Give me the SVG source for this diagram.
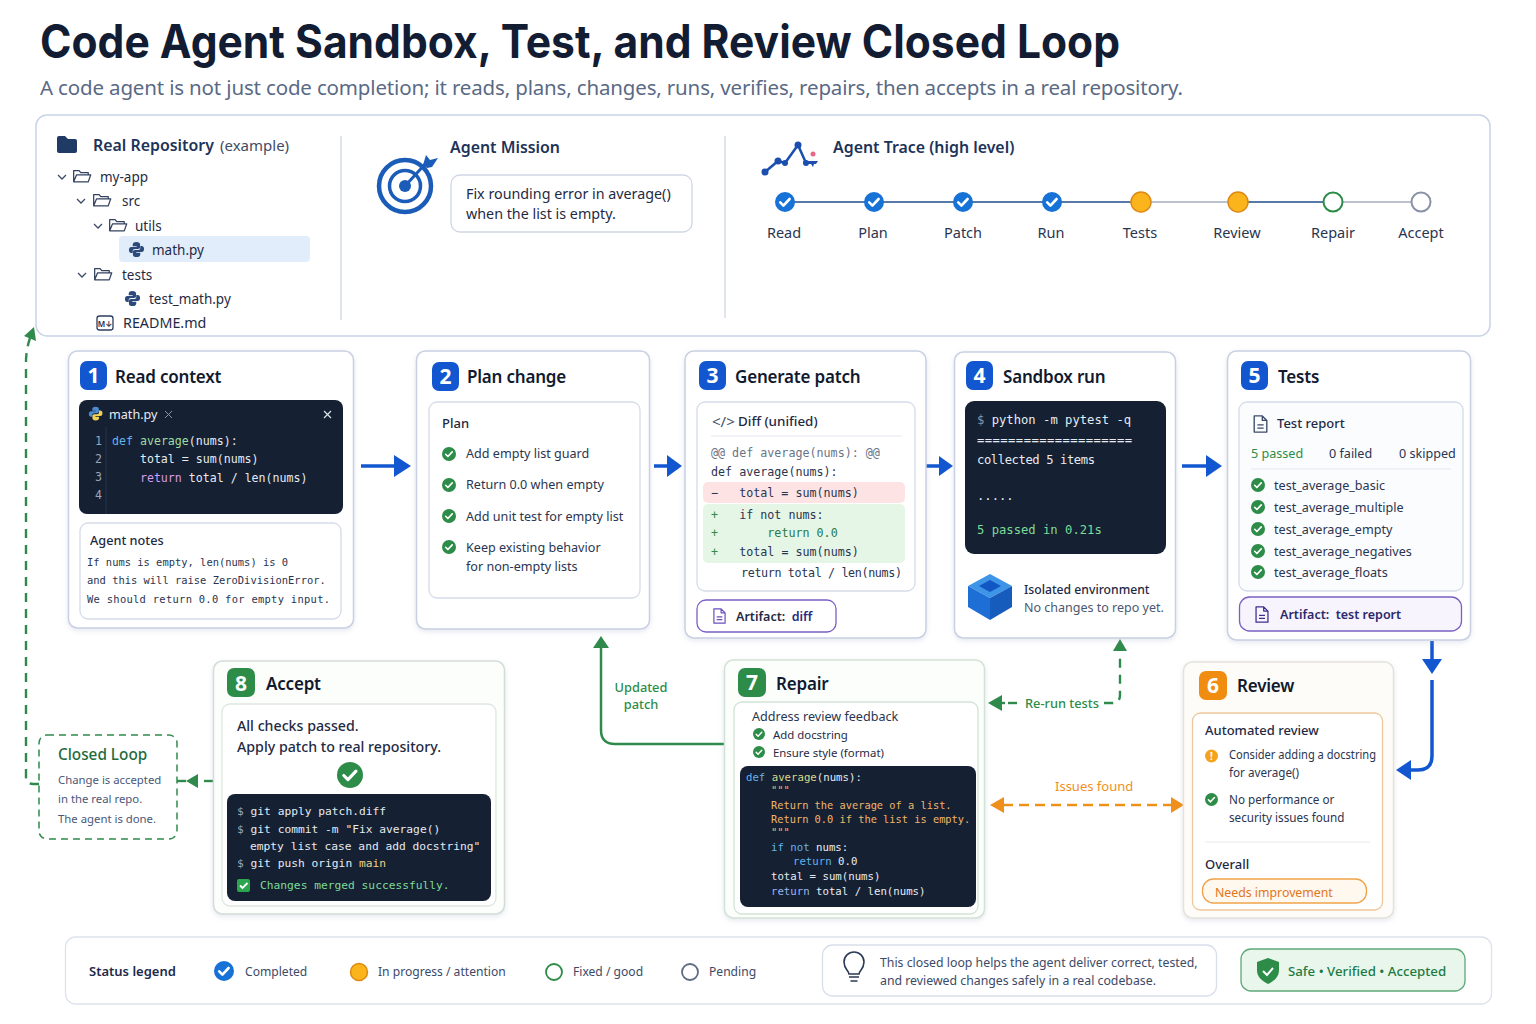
<svg xmlns="http://www.w3.org/2000/svg" width="1536" height="1024" viewBox="0 0 1536 1024">
<style>
text{font-family:"Noto Sans","Inter","Liberation Sans",sans-serif;fill:#1f2a44}
.m{font-family:"DejaVu Sans Mono","Liberation Mono",monospace}
.card{fill:#fff;stroke:#c8d0e2;stroke-width:1.5;filter:url(#sh)}
.inner{fill:#fff;stroke:#d5dbe8;stroke-width:1.3}
.dark{fill:#152033}
.h{font-size:17px;font-weight:600;fill:#111a2e;letter-spacing:-.2px}
.n{font-size:21px;font-weight:700;fill:#fff;text-anchor:middle}
.b{font-size:12.6px;fill:#2a3550}
.b13{font-size:13px;font-weight:500;fill:#1f2a44}
.sm{font-size:13.5px}
.k116{font-size:11.6px;fill:#e6ebf2}
.k122{font-size:12.2px;fill:#e6ebf2}
.k113{font-size:11.25px;fill:#e6ebf2}
.k107{font-size:10.7px;fill:#e6ebf2}
.k103{font-size:10.35px;fill:#f0b56a}
.k105{font-size:10.45px;fill:#2a3550}
.dk{font-size:11.7px;fill:#2a3550}
.kw{fill:#63b3ed}.fn{fill:#9fdc9f}.pu{fill:#d59cf0}
.tr{font-size:14.5px;text-anchor:middle;fill:#2a3550}
.lg{font-size:12.1px;fill:#3c4a68}
.lg2{font-size:12.3px;fill:#3c4a68}
.rv{font-size:11.7px;fill:#2a3550}
.cl{font-size:11.35px;fill:#4a5878}
.af{font-size:12.5px;font-weight:600}
.hd{font-size:15.9px;font-weight:600;fill:#1d3358}
.el{font-size:12.8px;font-weight:500;fill:#2c8c48}
.blue{fill:none;stroke:#1257d0;stroke-width:3.5}
.gd{fill:none;stroke:#2f8a4c;stroke-width:2.4;stroke-dasharray:9 7}
.od{fill:none;stroke:#ef8f1c;stroke-width:2.4;stroke-dasharray:10 6}
</style>
<defs>
<filter id="sh" x="-5%" y="-5%" width="110%" height="112%"><feDropShadow dx="0" dy="2" stdDeviation="2.5" flood-color="#8a97b5" flood-opacity=".22"/></filter>
<symbol id="ck" viewBox="0 0 20 20" overflow="visible"><circle cx="10" cy="10" r="10" fill="#2c8c48"/><path d="M5.2 10.4l3.2 3.2 6.2-6.6" fill="none" stroke="#fff" stroke-width="2.4" stroke-linecap="round" stroke-linejoin="round"/></symbol>
<symbol id="bk" viewBox="0 0 20 20" overflow="visible"><circle cx="10" cy="10" r="10" fill="#1672d6"/><path d="M5.2 10.4l3.2 3.2 6.2-6.6" fill="none" stroke="#fff" stroke-width="2.6" stroke-linecap="round" stroke-linejoin="round"/></symbol>
<symbol id="fold" viewBox="0 0 24 18" overflow="visible"><path d="M2 16V2.5h6.5l2 2.5H19.5V7.5M2 16L5.5 7.5H22.5L19.5 16Z" fill="none" stroke="#33415f" stroke-width="1.5" stroke-linejoin="round"/></symbol>
<symbol id="py" viewBox="0 0 18 18" overflow="visible"><path d="M9 1C6 1 5 2.2 5 4v1.500h4.200v.8H3.500C2 6.300 1 7.500 1 9.500s1 3.200 2.500 3.200H5v-2c0-1.400 1-2.300 2.400-2.300h3.300c1.200 0 2.100-.9 2.100-2.100V3.500C12.800 2 11.400 1 9 1Z" fill="#2c4a7a"/><path d="M9 17c3 0 4-1.200 4-3v-1.500H8.800v-.8h5.700c1.500 0 2.500-1.200 2.500-3.200s-1-3.200-2.500-3.200H13v2c0 1.400-1 2.300-2.400 2.300H7.300c-1.200 0-2.100.9-2.100 2.100v2.800C5.200 16 6.600 17 9 17Z" fill="#2c4a7a"/></symbol>
<symbol id="doc" viewBox="0 0 16 20" overflow="visible"><path d="M1 1h9l5 5v13H1ZM10 1v5h5M4.5 11h7M4.500 14.500h7" fill="none" stroke="currentColor" stroke-width="1.500" stroke-linejoin="round"/></symbol>
</defs>
<rect width="1536" height="1024" fill="#fff"/>
<text x="40" y="58" font-size="46" font-weight="700" style="font-family:Inter,'Noto Sans',sans-serif;fill:#121c33" textLength="1080" lengthAdjust="spacingAndGlyphs">Code Agent Sandbox, Test, and Review Closed Loop</text>
<text x="40" y="95" font-size="20.5" style="fill:#5a6a85" textLength="1143" lengthAdjust="spacing">A code agent is not just code completion; it reads, plans, changes, runs, verifies, repairs, then accepts in a real repository.</text>

<g id="connectors">
<path class="gd" d="M39 784H33Q26 784 26 777V362Q26 350 30 338"/>
<path d="M34 327l-10 9 12 5z" fill="#2f8a4c"/>
<path class="gd" d="M213 781H198"/><path d="M186 781l12-7v14z" fill="#2f8a4c"/><path d="M186 781h-9" fill="none" stroke="#2f8a4c" stroke-width="2.4"/>
<path class="blue" d="M361 466H395"/><path d="M411 466l-17-11v22z" fill="#1257d0"/>
<path class="blue" d="M654 466H668"/><path d="M682 466l-15-11v22z" fill="#1257d0"/>
<path class="blue" d="M926 466H940"/><path d="M953 466l-14-10v20z" fill="#1257d0"/>
<path class="blue" d="M1182 466H1207"/><path d="M1222 466l-16-11v22z" fill="#1257d0"/>
<path class="blue" d="M1432 641V660"/><path d="M1432 674l-10-15h20z" fill="#1257d0"/>
<path class="blue" d="M1432 680V756Q1432 770 1418 770H1410"/><path d="M1396 770l15-10v20z" fill="#1257d0"/>
<path d="M725 744H615Q601 744 601 730V648" fill="none" stroke="#2f8a4c" stroke-width="2.5"/><path d="M601 636l-8 12h16z" fill="#2f8a4c"/>
<path d="M1017 703H1008" fill="none" stroke="#2f8a4c" stroke-width="2.4"/><path d="M988 703l14-8v16z" fill="#2f8a4c"/><path d="M1002 703h3" stroke="#2f8a4c" stroke-width="2.4"/>
<path class="gd" d="M1104 703H1112Q1120 703 1120 695V652"/><path d="M1120 639l-7 12h14z" fill="#2f8a4c"/>
<path class="od" d="M1003 805H1171"/><path d="M990 805l14-8v16z" fill="#ef8f1c"/><path d="M1184 805l-13-8v16z" fill="#ef8f1c"/>
</g>

<g id="repository-panel">
<rect x="36" y="115" width="1454" height="221" rx="11" fill="#fff" stroke="#c8d3e6" stroke-width="1.5"/>
<path d="M341 136V320M725 136V318" stroke="#d5dbe8" stroke-width="1.5"/>
<path d="M57 138a2 2 0 0 1 2-2h6l3 3h7a2 2 0 0 1 2 2v10a2 2 0 0 1-2 2H59a2 2 0 0 1-2-2Z" fill="#1f3a64"/>
<text x="93" y="151" class="hd">Real Repository</text>
<text x="220" y="151" font-size="15" style="fill:#3f4b66">(example)</text>
<path d="M58 175l4 4 4-4M77 199l4 4 4-4M94 224l4 4 4-4M78 273l4 4 4-4" fill="none" stroke="#3c4a68" stroke-width="1.3"/>
<use href="#fold" x="72" y="168" width="20" height="16"/><text x="100" y="182" class="sm">my-app</text>
<use href="#fold" x="92" y="192" width="20" height="16"/><text x="122" y="206" class="sm">src</text>
<use href="#fold" x="108" y="217" width="20" height="16"/><text x="135" y="231" class="sm">utils</text>
<rect x="119" y="236" width="191" height="26" rx="4" fill="#e2edfb"/>
<use href="#py" x="128" y="241" width="17" height="17"/><text x="152" y="255" class="sm">math.py</text>
<use href="#fold" x="93" y="266" width="20" height="16"/><text x="122" y="280" class="sm">tests</text>
<use href="#py" x="124" y="290" width="17" height="17"/><text x="149" y="304" class="sm">test_math.py</text>
<rect x="97" y="316" width="16" height="14" rx="2.5" fill="none" stroke="#2c3e60" stroke-width="1.3"/>
<text x="105" y="326.500" font-size="8" font-weight="600" text-anchor="middle">M↓</text>
<text x="123" y="328" font-size="14.3">README.md</text>
<g fill="none" stroke="#1a5cb8">
<circle cx="405" cy="186" r="26" stroke-width="4.5"/><circle cx="405" cy="186" r="15.500" stroke-width="3.5"/>
<path d="M405 186L428 161" stroke-width="3"/></g>
<circle cx="405" cy="186" r="6" fill="#1a5cb8"/><path d="M423 165l3-10 4 5 8-2-6 9-5 1z" fill="#1a5cb8"/>
<text x="450" y="153" class="hd">Agent Mission</text>
<rect x="451" y="175" width="241" height="57" rx="9" fill="#fff" stroke="#cfd6e5" stroke-width="1.3"/>
<text x="466" y="199" font-size="14.3">Fix rounding error in average()</text>
<text x="466" y="219" font-size="14.3">when the list is empty.</text>
<path d="M765 172L778 161L785 163L798 145L806 163" fill="none" stroke="#1a4fb0" stroke-width="2.5"/>
<g fill="#1a4fb0"><circle cx="765" cy="172" r="3.5"/><circle cx="778" cy="161" r="3.5"/><circle cx="785" cy="163" r="3"/><circle cx="798" cy="145" r="3.5"/><circle cx="806" cy="163" r="3"/><path d="M803 161h15l-2 3h-2l-1 3-2-3h-5z"/></g>
<circle cx="813" cy="154" r="2.5" fill="#e8688a"/>
<text x="833" y="153" class="hd">Agent Trace (high level)</text>
<path d="M785 202H1141M1238 202H1333" stroke="#1f4e8c" stroke-width="1.5"/>
<path d="M1141 202H1238M1333 202H1421" stroke="#a5adbd" stroke-width="1.5"/>
<use href="#bk" x="775" y="192" width="20" height="20"/><use href="#bk" x="864" y="192" width="20" height="20"/><use href="#bk" x="953" y="192" width="20" height="20"/><use href="#bk" x="1042" y="192" width="20" height="20"/>
<circle cx="1141" cy="202" r="10" fill="#fbb41c" stroke="#dd8a14" stroke-width="1.5"/><circle cx="1238" cy="202" r="10" fill="#fbb41c" stroke="#dd8a14" stroke-width="1.5"/>
<circle cx="1333" cy="202" r="9.5" fill="#fff" stroke="#2c8c48" stroke-width="2"/><circle cx="1421" cy="202" r="9.5" fill="#fff" stroke="#8a92a6" stroke-width="2"/>
<text class="tr" x="784" y="238">Read</text><text class="tr" x="873" y="238">Plan</text><text class="tr" x="963" y="238">Patch</text><text class="tr" x="1051" y="238">Run</text><text class="tr" x="1140" y="238">Tests</text><text class="tr" x="1237" y="238">Review</text><text class="tr" x="1333" y="238">Repair</text><text class="tr" x="1421" y="238">Accept</text>
</g>

<g id="node-1">
<rect class="card" x="68.500" y="351" width="285" height="277" rx="9"/>
<rect x="80" y="361" width="27" height="29" rx="7" fill="#1257d0"/><text class="n" x="93.500" y="383">1</text>
<text class="h" x="115" y="383">Read context</text>
<rect class="dark" x="79" y="400" width="264" height="114" rx="8"/>
<g transform="translate(88,406) scale(.85)"><path d="M9 1C6 1 5 2.2 5 4v1.500h4.200v.8H3.500C2 6.300 1 7.500 1 9.500s1 3.200 2.500 3.200H5v-2c0-1.400 1-2.300 2.400-2.300h3.300c1.200 0 2.100-.9 2.100-2.100V3.500C12.800 2 11.400 1 9 1Z" fill="#4b8bd0"/><path d="M9 17c3 0 4-1.200 4-3v-1.500H8.800v-.8h5.700c1.500 0 2.500-1.200 2.500-3.200s-1-3.200-2.500-3.200H13v2c0 1.400-1 2.300-2.400 2.300H7.300c-1.200 0-2.100.9-2.100 2.100v2.800C5.200 16 6.600 17 9 17Z" fill="#f2cf55"/></g>
<text x="109" y="419" font-size="12.6" style="fill:#e6ebf2">math.py</text>
<path d="M165 411l7 7m0-7l-7 7" stroke="#8a95a8" stroke-width="1"/><path d="M324 411l7 7m0-7l-7 7" stroke="#dde3ec" stroke-width="1.2"/>
<path d="M106 427V514" stroke="#24324c"/>
<text class="m k116" x="95" y="445" style="fill:#9aa5b8">1</text><text class="m k116" x="95" y="463" style="fill:#9aa5b8">2</text><text class="m k116" x="95" y="481" style="fill:#9aa5b8">3</text><text class="m k116" x="95" y="499" style="fill:#9aa5b8">4</text>
<text class="m k116" x="112" y="445"><tspan class="kw">def</tspan> <tspan class="fn">average</tspan>(nums):</text>
<text class="m k116" x="112" y="463" xml:space="preserve">    total = sum(nums)</text>
<text class="m k116" x="112" y="482" xml:space="preserve">    <tspan class="pu">return</tspan> total / len(nums)</text>
<rect class="inner" x="80" y="523" width="261" height="96" rx="8"/>
<text x="90" y="545" font-size="12.7" font-weight="500">Agent notes</text>
<text class="m k105" x="87" y="566">If nums is empty, len(nums) is 0</text>
<text class="m k105" x="87" y="584">and this will raise ZeroDivisionError.</text>
<text class="m k105" x="87" y="603" textLength="243">We should return 0.0 for empty input.</text>
</g>

<g id="node-2">
<rect class="card" x="416.500" y="351" width="233" height="278" rx="9"/>
<rect x="432" y="362" width="27" height="29" rx="7" fill="#1257d0"/><text class="n" x="445.500" y="384">2</text>
<text class="h" x="467" y="383">Plan change</text>
<rect class="inner" x="429" y="402" width="211" height="196" rx="8"/>
<text x="442" y="428" class="b13">Plan</text>
<use href="#ck" x="442" y="447" width="14" height="14"/><text class="b" x="466" y="458">Add empty list guard</text>
<use href="#ck" x="442" y="478" width="14" height="14"/><text class="b" x="466" y="489">Return 0.0 when empty</text>
<use href="#ck" x="442" y="509" width="14" height="14"/><text class="b" x="466" y="521">Add unit test for empty list</text>
<use href="#ck" x="442" y="540" width="14" height="14"/><text class="b" x="466" y="552">Keep existing behavior</text><text class="b" x="466" y="571">for non-empty lists</text>
</g>

<g id="node-3">
<rect class="card" x="685" y="351" width="241" height="287" rx="9"/>
<rect x="699" y="361" width="27" height="29" rx="7" fill="#1257d0"/><text class="n" x="712.500" y="383">3</text>
<text class="h" x="735" y="383">Generate patch</text>
<rect class="inner" x="697" y="402" width="218" height="189" rx="8"/>
<text x="712" y="427" font-size="15" style="fill:#44506a">&lt;/&gt;</text><text x="738" y="426" font-size="13.4" font-weight="500">Diff (unified)</text>
<path d="M711 436H902" stroke="#e4e8f0"/>
<rect x="703" y="482" width="202" height="21" rx="5" fill="#fde3e3"/><rect x="703" y="504" width="202" height="59" rx="5" fill="#e5f6e7"/>
<text class="m dk" x="711" y="457" style="fill:#6b7486">@@ def average(nums): @@</text>
<text class="m dk" x="711" y="476">def average(nums):</text>
<text class="m dk" x="711" y="497" xml:space="preserve">−   total = sum(nums)</text>
<text class="m dk" x="711" y="519" xml:space="preserve"><tspan style="fill:#2c8c48">+</tspan>   if not nums:</text>
<text class="m dk" x="711" y="537" xml:space="preserve"><tspan style="fill:#2c8c48">+</tspan>       <tspan style="fill:#2a7a45">return 0.0</tspan></text>
<text class="m dk" x="711" y="556" xml:space="preserve"><tspan style="fill:#2c8c48">+</tspan>   total = sum(nums)</text>
<text class="m dk" x="741" y="577" textLength="161">return total / len(nums)</text>
<rect x="697" y="600" width="139" height="32" rx="9" fill="#fff" stroke="#7b5fc4" stroke-width="1.3"/>
<use href="#doc" x="713" y="608" width="13" height="16" style="color:#6a4fc0"/>
<text x="736" y="621" class="af" xml:space="preserve">Artifact:  <tspan style="fill:#2b2a80">diff</tspan></text>
</g>

<g id="node-4">
<rect class="card" x="954.500" y="352" width="221" height="286" rx="9"/>
<rect x="966" y="361" width="27" height="29" rx="7" fill="#1257d0"/><text class="n" x="979.500" y="383">4</text>
<text class="h" x="1003" y="383">Sandbox run</text>
<rect class="dark" x="965" y="401" width="201" height="153" rx="9"/>
<text class="m k122" x="977" y="424"><tspan style="fill:#8a95a8">$</tspan> python -m pytest -q</text>
<text class="m k122" x="977" y="444" textLength="155">====================</text>
<text class="m k122" x="977" y="464" textLength="118">collected 5 items</text>
<text class="m k122" x="977" y="500">.....</text>
<text class="m k122" x="977" y="534" style="fill:#7ddc98">5 passed in 0.21s</text>
<path d="M990 574l22 12-22 12-22-12z" fill="#3e94e6"/><path d="M968 586v21l22 13v-22z" fill="#1d6fd6"/><path d="M1012 586v21l-22 13v-22z" fill="#155cbc"/><path d="M990 580l11 6-11 6-11-6z" fill="#1257c4"/>
<text x="1024" y="594" font-size="12.2" font-weight="500">Isolated environment</text>
<text x="1024" y="612" font-size="12.5" style="fill:#4c5870">No changes to repo yet.</text>
</g>

<g id="node-5">
<rect class="card" x="1227.500" y="351" width="243" height="289" rx="9"/>
<rect x="1241" y="361" width="27" height="29" rx="7" fill="#1257d0"/><text class="n" x="1254.500" y="383">5</text>
<text class="h" x="1278" y="383">Tests</text>
<rect class="inner" x="1239" y="402" width="224" height="189" rx="8" style="fill:#fbfcfe"/>
<use href="#doc" x="1253" y="415" width="15" height="18" style="color:#3c4a68"/>
<text x="1277" y="428" class="b13">Test report</text>
<text x="1251" y="458" class="b" style="fill:#2c8c48">5 passed</text><text x="1329" y="458" class="b">0 failed</text><text x="1399" y="458" class="b">0 skipped</text>
<path d="M1251 469H1451" stroke="#e4e8f0"/>
<use href="#ck" x="1251" y="478" width="14" height="14"/><text class="b" x="1274" y="490">test_average_basic</text>
<use href="#ck" x="1251" y="500" width="14" height="14"/><text class="b" x="1274" y="512">test_average_multiple</text>
<use href="#ck" x="1251" y="522" width="14" height="14"/><text class="b" x="1274" y="534">test_average_empty</text>
<use href="#ck" x="1251" y="544" width="14" height="14"/><text class="b" x="1274" y="556">test_average_negatives</text>
<use href="#ck" x="1251" y="565" width="14" height="14"/><text class="b" x="1274" y="577">test_average_floats</text>
<rect x="1239.500" y="597" width="222" height="34" rx="10" fill="#f7f4fe" stroke="#7b5fc4" stroke-width="1.3"/>
<use href="#doc" x="1255" y="606" width="14" height="17" style="color:#3d2f90"/>
<text x="1280" y="619" class="af" style="fill:#2a2a6a" xml:space="preserve">Artifact:  test report</text>
</g>

<g id="node-6">
<rect class="card" x="1183.500" y="662" width="210" height="256" rx="9" style="fill:#fefcf8;stroke:#e3e2dc"/>
<rect x="1199" y="671" width="28" height="29" rx="7" fill="#f08c10"/><text class="n" x="1213" y="693">6</text>
<text class="h" x="1237" y="692">Review</text>
<rect class="inner" x="1192.500" y="713" width="190" height="197" rx="8" style="stroke:#edc79a"/>
<text x="1205" y="735" class="b13">Automated review</text>
<circle cx="1211.500" cy="756" r="6.5" fill="#f7a21b"/><text x="1211.500" y="760" font-size="10" font-weight="700" text-anchor="middle" style="fill:#fff">!</text>
<text x="1229" y="759" class="rv" textLength="147" lengthAdjust="spacingAndGlyphs">Consider adding a docstring</text><text x="1229" y="777" class="rv">for average()</text>
<use href="#ck" x="1205" y="793" width="13" height="13"/>
<text x="1229" y="804" class="rv">No performance or</text><text x="1229" y="822" class="rv">security issues found</text>
<path d="M1205 842H1370" stroke="#e8e8e8"/>
<text x="1205" y="869" class="b13">Overall</text>
<rect x="1202.500" y="879" width="164" height="24" rx="11" fill="#fff8ee" stroke="#f0a24a" stroke-width="1.3"/>
<text x="1215" y="897" font-size="12.3" style="fill:#e2761a">Needs improvement</text>
</g>

<g id="node-7">
<rect class="card" x="724.500" y="660" width="260" height="258" rx="9" style="fill:#fcfefc;stroke:#d3e2d6"/>
<rect x="738" y="668" width="28" height="29" rx="7" fill="#2c8c48"/><text class="n" x="752" y="690">7</text>
<text class="h" x="776" y="690">Repair</text>
<rect class="inner" x="734" y="702" width="244" height="212" rx="8" style="stroke:#d3e2d6"/>
<text x="752" y="721" class="b">Address review feedback</text>
<use href="#ck" x="753" y="728" width="12" height="12"/><text x="773" y="739" font-size="11.4">Add docstring</text>
<use href="#ck" x="753" y="746" width="12" height="12"/><text x="773" y="757" font-size="11.4">Ensure style (format)</text>
<rect class="dark" x="740" y="766" width="236" height="141" rx="8"/>
<text class="m k107" x="746" y="781"><tspan class="kw">def</tspan> <tspan style="fill:#d8d88a">average</tspan>(nums):</text>
<text class="m k103" x="771" y="794">"""</text>
<text class="m k103" x="771" y="809">Return the average of a list.</text>
<text class="m k103" x="771" y="823">Return 0.0 if the list is empty.</text>
<text class="m k103" x="771" y="836">"""</text>
<text class="m k107" x="771" y="851"><tspan class="kw">if not</tspan> nums:</text>
<text class="m k107" x="793" y="865"><tspan class="kw">return</tspan> 0.0</text>
<text class="m k107" x="771" y="880">total = sum(nums)</text>
<text class="m k107" x="771" y="895"><tspan style="fill:#9ab4f0">return</tspan> total / len(nums)</text>
</g>

<g id="node-8">
<rect class="card" x="213.500" y="661" width="291" height="253" rx="9" style="fill:#fcfefc;stroke:#d3dcd6"/>
<rect x="227" y="668" width="28" height="29" rx="7" fill="#2c8c48"/><text class="n" x="241" y="691">8</text>
<text class="h" x="266" y="690">Accept</text>
<rect class="inner" x="222" y="704" width="274" height="202" rx="8" style="stroke:#dfe6e0"/>
<text x="237" y="731" font-size="14.2" font-weight="500">All checks passed.</text>
<text x="237" y="752" font-size="14.2" font-weight="500">Apply patch to real repository.</text>
<use href="#ck" x="337" y="762" width="26" height="26"/>
<rect class="dark" x="227" y="794" width="264" height="107" rx="8"/>
<text class="m k113" x="237" y="815"><tspan style="fill:#9aa5b8">$</tspan> git apply patch.diff</text>
<text class="m k113" x="237" y="833"><tspan style="fill:#9aa5b8">$</tspan> git commit -m "Fix average()</text>
<text class="m k113" x="250" y="850">empty list case and add docstring"</text>
<text class="m k113" x="237" y="867"><tspan style="fill:#9aa5b8">$</tspan> git push origin <tspan style="fill:#f2d08a">main</tspan></text>
<rect x="237" y="879" width="13" height="13" rx="2" fill="#2ba64f"/><path d="M240 885.500l2.500 2.500 5-5" fill="none" stroke="#fff" stroke-width="1.8"/>
<text class="m k113" x="260" y="889" style="fill:#7ddc98">Changes merged successfully.</text>
</g>

<g id="closed-loop">
<rect x="39" y="735" width="138" height="104" rx="8" fill="#fff" stroke="#2f8a4c" stroke-width="1.5" stroke-dasharray="7 5"/>
<text x="58" y="760" font-size="15.3" font-weight="500" style="fill:#1f6b3c">Closed Loop</text>
<text x="58" y="784" class="cl">Change is accepted</text>
<text x="58" y="803" class="cl">in the real repo.</text>
<text x="58" y="823" class="cl">The agent is done.</text>
</g>

<g id="edge-labels">
<text x="641" y="692" class="el" text-anchor="middle">Updated</text>
<text x="641" y="709" class="el" text-anchor="middle">patch</text>
<text x="1025" y="708" class="el">Re-run tests</text>
<text x="1055" y="791" font-size="13" style="fill:#ef8f1c">Issues found</text>
</g>

<g id="legend">
<rect x="65.500" y="937" width="1426" height="67" rx="10" fill="#fff" stroke="#dde2ec" stroke-width="1.3"/>
<text x="89" y="976" font-size="13" font-weight="600" style="fill:#1d2a4a">Status legend</text>
<use href="#bk" x="214" y="961" width="20" height="20"/><text x="245" y="976" class="lg">Completed</text>
<circle cx="359" cy="972" r="8.5" fill="#fbb41c" stroke="#dd8a14" stroke-width="1.5"/><text x="378" y="976" class="lg">In progress / attention</text>
<circle cx="554" cy="972" r="8" fill="#fff" stroke="#2c8c48" stroke-width="1.8"/><text x="573" y="976" class="lg">Fixed / good</text>
<circle cx="690" cy="972" r="8" fill="#fff" stroke="#5f6b82" stroke-width="1.8"/><text x="709" y="976" class="lg">Pending</text>
<rect x="822.500" y="945" width="394" height="51" rx="10" fill="#fff" stroke="#d8deea" stroke-width="1.3"/>
<path d="M849 974c0-3-5-5-5-12a10 10 0 0 1 20 0c0 7-5 9-5 12ZM849 977h10M850.500 981h7" fill="none" stroke="#2c3a56" stroke-width="1.6"/>
<text x="880" y="967" class="lg2">This closed loop helps the agent deliver correct, tested,</text>
<text x="880" y="985" class="lg2">and reviewed changes safely in a real codebase.</text>
<rect x="1241" y="949" width="224" height="42" rx="10" fill="#e8f6ec" stroke="#5ea878" stroke-width="1.3"/>
<path d="M1268 958l11 4v8c0 7-5 11-11 14-6-3-11-7-11-14v-8z" fill="#2c8c48"/><path d="M1263 971l4 4 6-7" fill="none" stroke="#fff" stroke-width="2"/>
<text x="1288" y="976" font-size="13.25" font-weight="500" style="fill:#1f7a42">Safe • Verified • Accepted</text>
</g>
</svg>
